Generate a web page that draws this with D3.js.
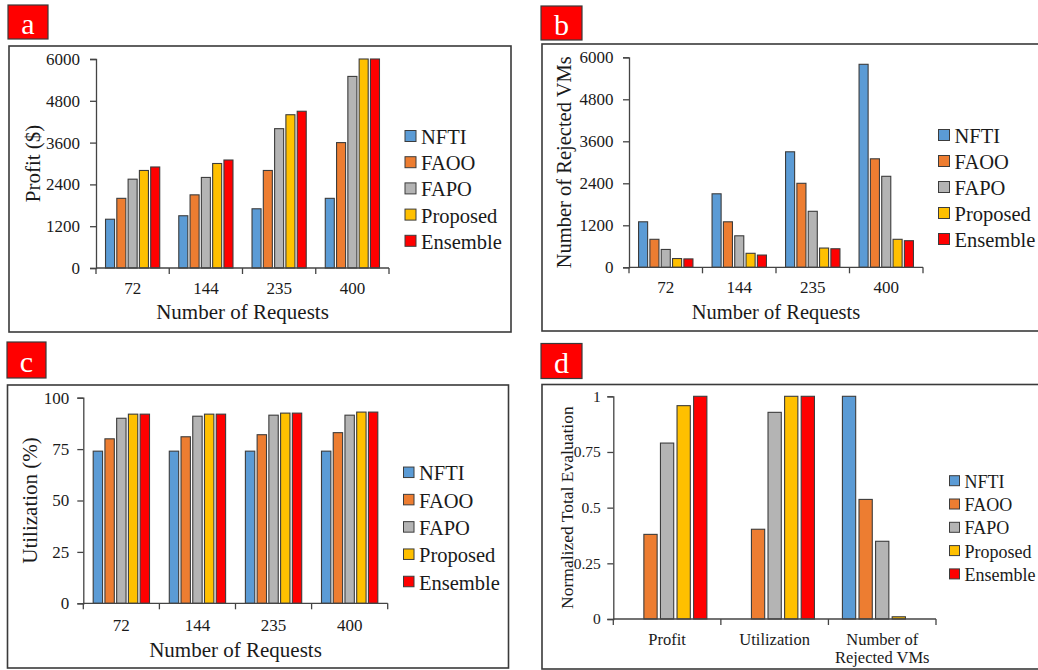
<!DOCTYPE html>
<html>
<head>
<meta charset="utf-8">
<script src="https://cdn.jsdelivr.net/npm/d3@7"></script>
<style>
  html, body { margin: 0; padding: 0; background: #fff; }
  svg { display: block; }
  text { font-family: "Liberation Serif", "Times New Roman", serif; fill: #1a1a1a; }
</style>
</head>
<body>
<svg id="chart" width="1038" height="670"></svg>
<script>
// ---------- data ----------
const seriesNames = ["NFTI", "FAOO", "FAPO", "Proposed", "Ensemble"];
const seriesColors = ["#5B9BD5", "#ED7D31", "#B4B4B4", "#FFC000", "#FF0000"];
const requestCategories = ["72", "144", "235", "400"];
const metricCategories = ["Profit", "Utilization", "Number of|Rejected VMs"];

// values per category, in series order NFTI, FAOO, FAPO, Proposed, Ensemble
const profitValues = [
  [1400, 2000, 2550, 2800, 2900],
  [1500, 2100, 2600, 3000, 3100],
  [1700, 2800, 4000, 4400, 4500],
  [2000, 3600, 5500, 6000, 6000]
];
const rejectedValues = [
  [1300, 800, 510, 250, 240],
  [2100, 1300, 900, 400, 350],
  [3300, 2400, 1600, 550, 530],
  [5800, 3100, 2600, 800, 760]
];
const utilizationValues = [
  [74, 80, 90, 92, 92],
  [74, 81, 91, 92, 92],
  [74, 82, 91.5, 92.5, 92.5],
  [74, 83, 91.5, 93, 93]
];
const normalizedValues = [
  [0, 0.38, 0.79, 0.958, 1],
  [0, 0.403, 0.928, 1, 1],
  [1, 0.537, 0.349, 0.01, 0]
];
const ticks6000 = [0, 1200, 2400, 3600, 4800, 6000];
const ticksUtil = [0, 25, 50, 75, 100];
const ticksNorm = [0, 0.25, 0.5, 0.75, 1];

// ---------- panels ----------
const panels = [
  { letter: "a", box: [8, 5, 48, 39], frame: [9, 46, 511, 332],
    x: [96, 389], y: [268, 59], domain: [0, 6000], ticks: ticks6000,
    cats: requestCategories, data: profitValues, tickPad: 10,
    yTitle: "Profit ($)", yTitleX: 33, xTitle: "Number of Requests",
    tickFont: 17, titleFont: 21, xLabelY: 288, xTitleY: 312,
    legend: { x: 405, y0: 136, dy: 26.2, size: 11, font: 20.5 } },
  { letter: "b", box: [541, 6, 582, 40], frame: [542, 44, 1045, 331],
    x: [629, 923], y: [267.3, 57.3], domain: [0, 6000], ticks: ticks6000,
    cats: requestCategories, data: rejectedValues, tickPad: 9.5,
    yTitle: "Number of Rejected VMs", yTitleX: 564, xTitle: "Number of Requests",
    tickFont: 17, titleFont: 20.5, xLabelY: 287.5, xTitleY: 311.5,
    legend: { x: 938.5, y0: 135, dy: 26, size: 11, font: 20.5 } },
  { letter: "c", box: [7, 342, 46, 378], frame: [7.5, 385, 508.5, 668],
    x: [83.3, 387.7], y: [603.3, 397.7], domain: [0, 100], ticks: ticksUtil,
    cats: requestCategories, data: utilizationValues, tickPad: 8,
    yTitle: "Utilization (%)", yTitleX: 29.5, xTitle: "Number of Requests",
    tickFont: 17, titleFont: 21, xLabelY: 625, xTitleY: 649.5,
    legend: { x: 403.5, y0: 472.3, dy: 27.3, size: 10.5, font: 20.5 } },
  { letter: "d", box: [541, 343.5, 582, 378.5], frame: [542, 384.5, 1045, 669],
    x: [613.3, 936], y: [619, 396.3], domain: [0, 1], ticks: ticksNorm,
    cats: metricCategories, data: normalizedValues, tickPad: 6.5,
    yTitle: "Normalized Total Evaluation", yTitleX: 567, xTitle: null,
    tickFont: 15.5, titleFont: 17.5, xLabelY: 639, xTitleY: null, xLabelFont: 16.5,
    legend: { x: 949.5, y0: 480.7, dy: 23.3, size: 10, font: 18 } }
];

const svg = d3.select("#chart");

panels.forEach(p => {
  const g = svg.append("g");

  // frame
  g.append("rect")
    .attr("x", p.frame[0]).attr("y", p.frame[1])
    .attr("width", p.frame[2] - p.frame[0]).attr("height", p.frame[3] - p.frame[1])
    .attr("fill", "#fff").attr("stroke", "#3a3a3a").attr("stroke-width", 1.6);

  // letter box
  g.append("rect")
    .attr("x", p.box[0]).attr("y", p.box[1])
    .attr("width", p.box[2] - p.box[0]).attr("height", p.box[3] - p.box[1])
    .attr("fill", "#FF0000").attr("stroke", "#3a3a3a").attr("stroke-width", 1.2);
  g.append("text")
    .attr("x", (p.box[0] + p.box[2]) / 2).attr("y", (p.box[1] + p.box[3]) / 2 + 1)
    .attr("text-anchor", "middle").attr("dominant-baseline", "central")
    .style("font-size", "30px").style("fill", "#fff")
    .text(p.letter);

  // scales
  const x0 = d3.scaleBand().domain(p.cats).range(p.x).paddingInner(0.26).paddingOuter(0.13);
  const x1 = d3.scaleBand().domain(seriesNames).range([0, x0.bandwidth()]).paddingInner(0.2).paddingOuter(0);
  const xEdge = d3.scaleBand().domain(p.cats).range(p.x).padding(0);
  const y = d3.scaleLinear().domain(p.domain).range(p.y);

  // bars
  p.cats.forEach((c, ci) => {
    const gg = g.append("g").attr("transform", `translate(${x0(c)},0)`);
    gg.selectAll("rect")
      .data(seriesNames.map((s, si) => ({ s, si, v: p.data[ci][si] })).filter(d => d.v > 0))
      .join("rect")
      .attr("x", d => x1(d.s))
      .attr("y", d => y(d.v))
      .attr("width", x1.bandwidth())
      .attr("height", d => y(0) - y(d.v))
      .attr("fill", d => seriesColors[d.si])
      .attr("stroke", "#3c3c3c").attr("stroke-width", 1.1);
  });

  // y axis
  const yAxis = d3.axisLeft(y).tickValues(p.ticks).tickSize(6).tickPadding(p.tickPad)
    .tickFormat(d => d3.format("")(d));
  const ya = g.append("g").attr("transform", `translate(${p.x[0]},0)`).call(yAxis);
  ya.selectAll("path, line").attr("stroke", "#444").attr("stroke-width", 1.3);
  ya.selectAll("text").style("font-size", p.tickFont + "px")
    .style("font-family", "Liberation Serif, serif").attr("fill", "#1a1a1a");

  // x axis line and boundary ticks
  const xa = g.append("g");
  xa.append("line").attr("x1", p.x[0]).attr("x2", p.x[1])
    .attr("y1", y(0)).attr("y2", y(0)).attr("stroke", "#444").attr("stroke-width", 1.3);
  const edges = p.cats.map(c => xEdge(c)).concat([p.x[1]]);
  xa.selectAll("line.tk").data(edges).join("line").attr("class", "tk")
    .attr("x1", d => d).attr("x2", d => d)
    .attr("y1", y(0)).attr("y2", y(0) + 6)
    .attr("stroke", "#444").attr("stroke-width", 1.3);

  // x labels
  p.cats.forEach(c => {
    const cx = xEdge(c) + xEdge.bandwidth() / 2;
    const lines = c.split("|");
    lines.forEach((ln, li) => {
      g.append("text")
        .attr("x", cx).attr("y", p.xLabelY + li * 18.7)
        .attr("text-anchor", "middle").attr("dominant-baseline", "central")
        .style("font-size", (p.xLabelFont || p.tickFont) + "px")
        .text(ln);
    });
  });

  // x title
  if (p.xTitle) {
    g.append("text")
      .attr("x", (p.x[0] + p.x[1]) / 2).attr("y", p.xTitleY)
      .attr("text-anchor", "middle").attr("dominant-baseline", "central")
      .style("font-size", p.titleFont + "px")
      .text(p.xTitle);
  }

  // y title
  const yc = (p.y[0] + p.y[1]) / 2;
  g.append("text")
    .attr("transform", `translate(${p.yTitleX},${yc}) rotate(-90)`)
    .attr("text-anchor", "middle").attr("dominant-baseline", "central")
    .style("font-size", p.titleFont + "px")
    .text(p.yTitle);

  // legend
  const L = p.legend;
  const lg = g.append("g");
  seriesNames.forEach((s, i) => {
    const cy = L.y0 + i * L.dy;
    lg.append("rect")
      .attr("x", L.x).attr("y", cy - L.size / 2)
      .attr("width", L.size).attr("height", L.size)
      .attr("fill", seriesColors[i]).attr("stroke", "#3c3c3c").attr("stroke-width", 1);
    lg.append("text")
      .attr("x", L.x + L.size + 5).attr("y", cy + 1)
      .attr("dominant-baseline", "central")
      .style("font-size", L.font + "px")
      .text(s);
  });
});
</script>
</body>
</html>
